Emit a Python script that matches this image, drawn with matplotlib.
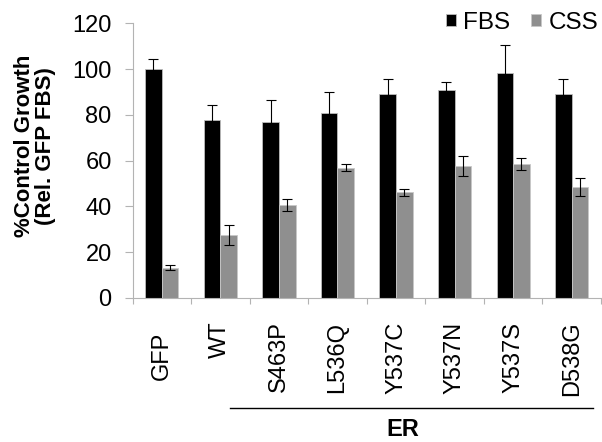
import matplotlib
matplotlib.use("Agg")
import matplotlib.pyplot as plt
import matplotlib.transforms as mtransforms
import numpy as np

categories = ["GFP", "WT", "S463P", "L536Q", "Y537C", "Y537N", "Y537S", "D538G"]
fbs = [100.0, 77.6, 77.0, 80.9, 89.1, 90.7, 98.1, 88.9]
fbs_err = [4.3, 6.7, 9.5, 9.0, 6.4, 3.7, 12.4, 6.6]
css = [13.3, 27.7, 40.8, 56.9, 46.1, 57.7, 58.6, 48.5]
css_err = [1.0, 4.4, 2.6, 1.5, 1.4, 4.5, 2.6, 4.0]
yticks = [0, 20, 40, 60, 80, 100, 120]

plt.rcParams['font.family'] = ['Liberation Sans', 'DejaVu Sans']

W, H = 602, 442
fig = plt.figure(figsize=(W / 100, H / 100), dpi=100)
ax = fig.add_axes([132.5 / W, 1 - 298 / H, (601 - 132.5) / W, (298 - 23.3) / H])

x = np.arange(len(categories))
bw = 0.284
axis_gray = '#b3b3b3'
ekw = dict(ecolor='black', elinewidth=0.8, capsize=3.8, capthick=0.8)
ax.bar(x - bw / 2, fbs, bw, color='black', edgecolor='#bdbdbd', linewidth=0.6,
       yerr=fbs_err, error_kw=ekw, label='FBS', zorder=2)
ax.bar(x + bw / 2, css, bw, color='#8f8f8f', edgecolor='#c8c8c8', linewidth=0.6,
       yerr=css_err, error_kw=ekw, label='CSS', zorder=2)

ax.set_xlim(-0.5, len(categories) - 0.5)
ax.set_ylim(0, 120)
ax.set_yticks(yticks)
ax.set_yticklabels([str(v) for v in yticks], fontsize=17)
ax.tick_params(axis='y', direction='out', length=6, width=0.8, color=axis_gray, pad=9)

ax.set_xticks(np.arange(len(categories) + 1) - 0.5, minor=False)
ax.set_xticklabels([])
ax.tick_params(axis='x', which='major', direction='out', length=4, width=0.8, color=axis_gray)
ax.set_xticks(x, minor=True)
ax.set_xticklabels(categories, minor=True, rotation=90, fontsize=17, va='top')
ax.tick_params(axis='x', which='minor', length=0, pad=17)
for lbl in ax.get_xticklabels(minor=True):
    if lbl.get_text() == "GFP":
        lbl.set_transform(lbl.get_transform() +
                          mtransforms.ScaledTranslation(0, -10 / 100, fig.dpi_scale_trans))

for s in ['top', 'right']:
    ax.spines[s].set_visible(False)
for s in ['left', 'bottom']:
    ax.spines[s].set_color(axis_gray)
    ax.spines[s].set_linewidth(0.8)

fig.text(35 / W, 1 - 146 / H, "%Control Growth\n(Rel. GFP FBS)", rotation=90,
         ha='center', va='center', multialignment='center', fontsize=16,
         fontweight='bold', linespacing=1.0)

ax.legend(loc='center right', bbox_to_anchor=(598 / W, 1 - 23 / H),
          bbox_transform=fig.transFigure, ncol=2, frameon=False,
          fontsize=17.5, handlelength=0.4, handleheight=0.4, handletextpad=0.3,
          columnspacing=0.85, borderaxespad=0, borderpad=0)

line = plt.Line2D([230 / W, 593 / W], [1 - 408 / H, 1 - 408 / H], transform=fig.transFigure,
                  color='black', linewidth=1.0)
fig.add_artist(line)
fig.text(403 / W, 1 - 430 / H, "ER", ha='center', va='center', fontsize=17, fontweight='bold')

fig.savefig("out.png", dpi=100)
